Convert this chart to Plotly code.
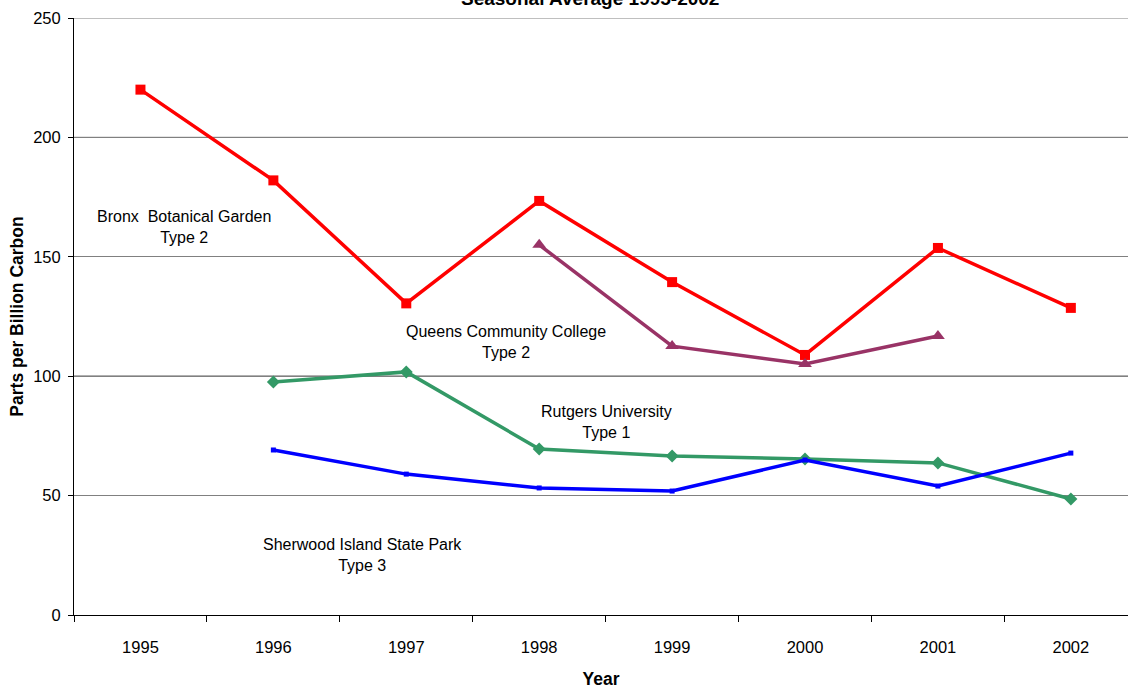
import plotly.graph_objects as go

years = ["1995", "1996", "1997", "1998", "1999", "2000", "2001", "2002"]
bronx = [220, 182, 130.5, 173.4, 139.4, 108.9, 153.7, 128.6]
queens_years = ["1998", "1999", "2000", "2001"]
queens = [155, 112.6, 105.1, 116.8]
rut_years = ["1996", "1997", "1998", "1999", "2000", "2001", "2002"]
rutgers = [97.6, 101.8, 69.5, 66.6, 65.3, 63.7, 48.6]
sher_years = ["1996", "1997", "1998", "1999", "2000", "2001", "2002"]
sherwood = [69.1, 59.0, 53.2, 51.9, 64.9, 54.0, 67.8]

FONT = "Liberation Sans, Arial, sans-serif"

fig = go.Figure()
fig.add_trace(go.Scatter(x=years, y=bronx, mode="lines+markers",
                         line=dict(color="#FF0000", width=3.5),
                         marker=dict(symbol="square", size=10, color="#FF0000")))
fig.add_trace(go.Scatter(x=queens_years, y=queens, mode="lines+markers",
                         line=dict(color="#993366", width=3.5),
                         marker=dict(symbol="triangle-up", size=12, color="#993366")))
fig.add_trace(go.Scatter(x=rut_years, y=rutgers, mode="lines+markers",
                         line=dict(color="#339966", width=3.5),
                         marker=dict(symbol="diamond", size=10, color="#339966")))
fig.add_trace(go.Scatter(x=sher_years, y=sherwood, mode="lines+markers",
                         line=dict(color="#0000FF", width=3.5),
                         marker=dict(symbol="square", size=5, color="#0000FF")))

labels = [
    ("Bronx  Botanical Garden<br>Type 2", 0.33, 162.5),
    ("Queens Community College<br>Type 2", 2.75, 114.5),
    ("Rutgers University<br>Type 1", 3.51, 81.0),
    ("Sherwood Island State Park<br>Type 3", 1.67, 25.0),
]
for txt, xx, yy in labels:
    fig.add_annotation(x=xx, y=yy, xref="x", yref="y", text=txt, showarrow=False,
                       font=dict(family=FONT, size=16, color="black"))

fig.add_annotation(x=0.49, y=1.011, xref="paper", yref="paper", yanchor="bottom",
                   text="<b>Seasonal Average 1995-2002</b>", showarrow=False,
                   font=dict(family=FONT, size=19, color="black"))

for v, c in [(100, "black"), (200, "black"), (250, "#808080")]:
    fig.add_shape(type="line", xref="paper", yref="y", x0=0, x1=1, y0=v, y1=v,
                  line=dict(color=c, width=1), layer="below")

fig.update_layout(
    width=1128, height=689,
    margin=dict(l=74, r=0, t=18, b=74, autoexpand=False),
    paper_bgcolor="white", plot_bgcolor="white",
    showlegend=False,
    font=dict(family=FONT, size=16, color="black"),
)
fig.update_xaxes(type="category", range=[-0.5, 7.43], tickson="boundaries",
                 ticks="outside", ticklen=6, tickcolor="black",
                 showline=True, linecolor="black", linewidth=1, automargin=False,
                 showgrid=False, zeroline=False, ticklabelstandoff=17,
                 title=dict(text="<b>Year</b>", font=dict(family=FONT, size=17.5), standoff=28),
                 tickfont=dict(family=FONT, size=16.5))
fig.update_yaxes(range=[0, 250], tickvals=[0, 50, 100, 150, 200, 250],
                 ticks="outside", ticklen=5, tickcolor="black",
                 showline=True, linecolor="black", linewidth=1, automargin=False,
                 showgrid=True, gridcolor="#808080", gridwidth=1, zeroline=False,
                 ticklabelstandoff=4,
                 title=dict(text="<b>Parts per Billion Carbon</b>", font=dict(family=FONT, size=17.5), standoff=5),
                 tickfont=dict(family=FONT, size=16.5))

fig.write_html("out.html", config={"displayModeBar": False},
               post_script="document.body.style.margin='0';")
